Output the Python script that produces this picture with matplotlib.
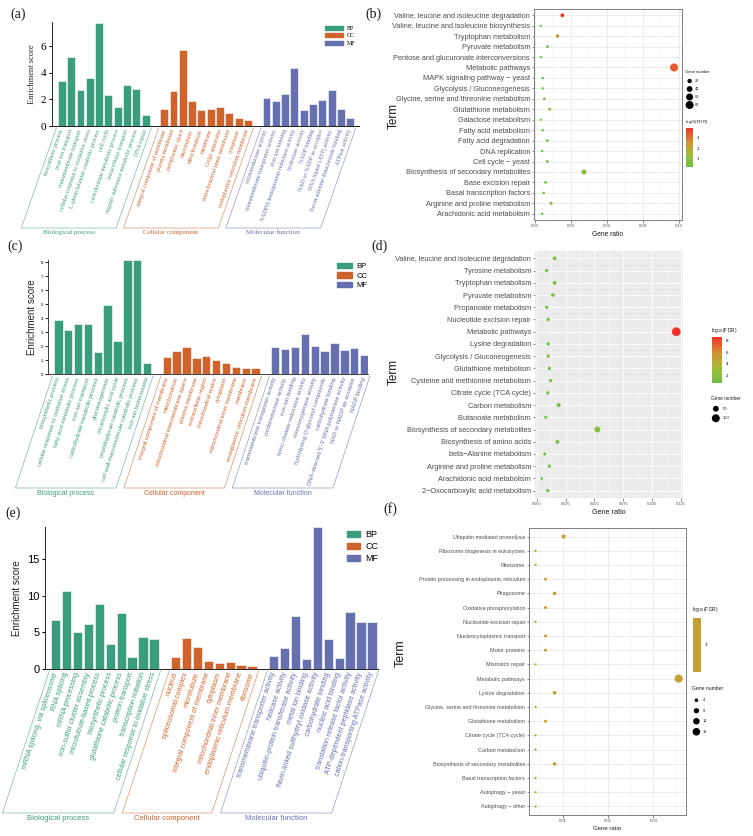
import numpy as np
import matplotlib
matplotlib.use('Agg')
import matplotlib.pyplot as plt
from matplotlib.lines import Line2D
from matplotlib.patches import Patch
from matplotlib.colors import LinearSegmentedColormap, ListedColormap, Normalize
import matplotlib.cm as cm

# ---------------- data ----------------
a_bp_terms = ["biosynthetic process", "iron ion transport", "transmembrane transport",
              "cellular response to oxidative stress", "L-phenylalanine catabolic process",
              "cell cycle", "carbohydrate metabolic process", "intracellular transport",
              "organic substance metabolic process", "DNA repair"]
a_bp_vals = [3.35, 5.18, 2.68, 3.58, 7.75, 2.3, 1.4, 3.08, 2.8, 0.85]
a_cc_terms = ["integral component of membrane", "plasma membrane", "periplasmic space",
              "microtubule", "mitochondrion", "membrane", "Golgi apparatus",
              "mitochondrial inner membrane", "cytoplasm", "endoplasmic reticulum membrane"]
a_cc_vals = [1.3, 2.63, 5.73, 1.85, 1.23, 1.25, 1.45, 1.0, 0.63, 0.45]
a_mf_terms = ["oxidoreductase activity", "transmembrane transporter activity", "iron ion binding",
              "NADPH-hemoprotein reductase activity", "hydrolase activity", "NADP binding",
              "NAD or NADP as acceptor", "DNA ligase (ATP) activity",
              "flavin adenine dinucleotide binding", "ATPase activity"]
a_mf_vals = [2.1, 1.85, 2.4, 4.38, 1.23, 1.63, 1.95, 2.73, 1.28, 0.63]

c_bp_terms = ["biosynthetic process", "cellular response to oxidative stress",
              "fatty acid metabolic process", "iron ion transport", "carbohydrate metabolic process",
              "gluconeogenesis", "tricarboxylic acid cycle", "peptidoglycan catabolic process",
              "cell wall macromolecule catabolic process", "iron ion homeostasis"]
c_bp_vals = [3.87, 3.13, 3.6, 3.6, 1.57, 4.91, 2.37, 8.15, 8.15, 0.78]
c_cc_terms = ["integral component of membrane", "mitochondrion", "mitochondrial intermembrane space",
              "plasma membrane", "extracellular region", "mitochondrial matrix", "cytoplasm",
              "mitochondrial inner membrane", "membrane", "endoplasmic reticulum membrane"]
c_cc_vals = [1.19, 1.61, 1.92, 1.14, 1.28, 1.02, 0.76, 0.5, 0.4, 0.4]
c_mf_terms = ["transmembrane transporter activity", "oxidoreductase activity", "iron ion binding",
              "ferric-chelate reductase activity", "monooxygenase activity",
              "hydrolyzing O-glycosyl compounds", "carbohydrate binding",
              "DNA-directed 5'-3' RNA polymerase activity", "NAD or NADP as acceptor", "NADP binding"]
c_mf_vals = [1.92, 1.76, 1.95, 2.85, 1.99, 1.64, 2.23, 1.71, 1.83, 1.38]

e_bp_terms = ["mRNA splicing, via spliceosome", "RNA splicing", "mRNA processing",
              "iron-sulfur cluster assembly", "microtubule-based process", "biosynthetic process",
              "glutathione catabolic process", "protein transport", "transcription initiation",
              "cellular response to oxidative stress"]
e_bp_vals = [6.66, 10.65, 5.12, 6.12, 8.88, 3.44, 7.66, 1.68, 4.4, 4.12]
e_cc_terms = ["nucleus", "spliceosomal complex", "microtubule", "integral component of membrane",
              "cytoplasm", "mitochondrial inner membrane", "endoplasmic reticulum membrane", "ribosome"]
e_cc_vals = [1.59, 4.17, 2.99, 1.09, 0.86, 0.95, 0.5, 0.36]
e_mf_terms = ["transmembrane transporter activity", "helicase activity",
              "ubiquitin-protein transferase activity", "metal ion binding",
              "flavin-linked sulfhydryl oxidase activity", "carbohydrate binding",
              "nucleic acid binding", "translation release factor activity",
              "ATP-dependent peptidase activity", "cation-transporting ATPase activity"]
e_mf_vals = [1.81, 2.85, 7.25, 1.4, 19.4, 4.12, 1.54, 7.8, 6.48, 6.48]

b_terms = ["Valine, leucine and isoleucine degradation", "Valine, leucine and isoleucine biosynthesis",
           "Tryptophan metabolism", "Pyruvate metabolism", "Pentose and glucuronate interconversions",
           "Metabolic pathways", "MAPK signaling pathway \u2212 yeast", "Glycolysis / Gluconeogenesis",
           "Glycine, serine and threonine metabolism", "Glutathione metabolism", "Galactose metabolism",
           "Fatty acid metabolism", "Fatty acid degradation", "DNA replication", "Cell cycle \u2212 yeast",
           "Biosynthesis of secondary metabolites", "Base excision repair", "Basal transcription factors",
           "Arginine and proline metabolism", "Arachidonic acid metabolism"]
b_ratio = [0.023, 0.005, 0.019, 0.0107, 0.005, 0.116, 0.0066, 0.0066, 0.008, 0.0125, 0.005,
           0.0066, 0.0105, 0.0062, 0.0105, 0.041, 0.009, 0.0075, 0.0135, 0.0062]
b_count = [15, 3, 13, 7, 3, 82, 4, 4, 5, 8, 3, 4, 7, 4, 7, 29, 6, 5, 9, 4]
b_fdr = [3.9, 0.3, 2.3, 0.8, 0.2, 3.3, 0.4, 0.4, 0.5, 0.9, 0.2, 0.4, 0.7, 0.3, 0.7, 0.9, 0.5,
         0.4, 0.8, 0.3]
b_size_legend = [20, 40, 60, 80]

d_terms = ["Valine, leucine and isoleucine degradation", "Tyrosine metabolism", "Tryptophan metabolism",
           "Pyruvate metabolism", "Propanoate metabolism", "Nucleotide excision repair",
           "Metabolic pathways", "Lysine degradation", "Glycolysis / Gluconeogenesis",
           "Glutathione metabolism", "Cysteine and methionine metabolism", "Citrate cycle (TCA cycle)",
           "Carbon metabolism", "Butanoate metabolism", "Biosynthesis of secondary metabolites",
           "Biosynthesis of amino acids", "beta\u2212Alanine metabolism", "Arginine and proline metabolism",
           "Arachidonic acid metabolism", "2\u2212Oxocarboxylic acid metabolism"]
d_ratio = [0.0155, 0.0086, 0.0155, 0.014, 0.0086, 0.010, 0.121, 0.010, 0.010, 0.011, 0.012,
           0.0095, 0.019, 0.0078, 0.0526, 0.018, 0.0069, 0.011, 0.0043, 0.0095]
d_count = [16, 9, 16, 14, 9, 10, 122, 10, 10, 11, 12, 10, 19, 8, 53, 18, 7, 11, 4, 10]
d_fdr = [1.4, 1.0, 1.4, 1.3, 1.0, 1.1, 8.7, 1.1, 1.1, 1.2, 1.2, 1.1, 1.5, 0.9, 1.8, 1.5, 0.9,
         1.2, 0.6, 1.1]
d_size_legend = [50, 100]

f_terms = ["Ubiquitin mediated proteolysis", "Ribosome biogenesis in eukaryotes", "Ribosome",
           "Protein processing in endoplasmic reticulum", "Phagosome", "Oxidative phosphorylation",
           "Nucleotide excision repair", "Nucleocytoplasmic transport", "Motor proteins",
           "Mismatch repair", "Metabolic pathways", "Lysine degradation",
           "Glycine, serine and threonine metabolism", "Glutathione metabolism",
           "Citrate cycle (TCA cycle)", "Carbon metabolism", "Biosynthesis of secondary metabolites",
           "Basal transcription factors", "Autophagy \u2212 yeast", "Autophagy \u2212 other"]
f_ratio = [0.0102, 0.0040, 0.0040, 0.0062, 0.0082, 0.0062, 0.0040, 0.0062, 0.0062, 0.0040,
           0.0356, 0.0082, 0.0040, 0.0062, 0.0040, 0.0040, 0.0082, 0.0040, 0.0040, 0.0040]
f_count = [5, 2, 2, 3, 4, 3, 2, 3, 3, 2, 18, 4, 2, 3, 2, 2, 4, 2, 2, 2]
f_fdr = [3.0] * 20
f_size_legend = [4, 8, 12, 16]

# ---------------- figure ----------------
W, H = 753, 836
fig = plt.figure(figsize=(W / 100, H / 100), dpi=100)


def rect(l, t, r, b):
    return [l / W, 1 - b / H, (r - l) / W, (b - t) / H]


def fx(x):
    return x / W


def fy(y):
    return 1 - y / H


C_BP, C_CC, C_MF = '#3A9D7D', '#D0632B', '#6670AE'
SERIF = ['Liberation Serif', 'DejaVu Serif']
SANS = ['Liberation Sans', 'DejaVu Sans']
NARROW = ['Liberation Sans Narrow', 'Liberation Sans', 'DejaVu Sans']


def bar_panel(box, groups, xlim, ylim, yticks, family, ytick_fs, ylab_fs, ylab_x,
              lab_fs, rot, br_h, grp_fs, grp_gap, leg_xy, leg_fs, leg_hl, leg_sp, axis_lw,
              ytick_len):
    l, t, r, b = box
    ax = fig.add_axes(rect(*box))
    ax_w, ax_h = r - l, b - t
    ppu = ax_w / (xlim[1] - xlim[0])
    start = 0
    all_pos, all_terms, all_cols = [], [], []
    for terms, vals, col, name in groups:
        pos = np.arange(len(vals)) + start
        ax.bar(pos, vals, width=0.85, color=col, edgecolor='white', linewidth=0.4, zorder=2)
        all_pos += list(pos)
        all_terms += terms
        all_cols += [col] * len(terms)
        # bracket (parallelogram)
        x0, x1 = pos[0] - 0.6, pos[-1] + 0.6
        shift = br_h / np.tan(np.radians(rot)) / ppu
        ytop = -2.0 / ax_h
        ybot = -br_h / ax_h
        ln = Line2D([x0, x0 - shift, x1 - shift, x1], [ytop, ybot, ybot, ytop],
                    transform=ax.get_xaxis_transform(), color=col, lw=0.5, alpha=0.7,
                    clip_on=False)
        ax.add_line(ln)
        ax.text((x0 + x1) / 2 - shift, ybot - grp_gap / ax_h, name,
                transform=ax.get_xaxis_transform(), ha='center', va='top',
                color=col, fontsize=grp_fs, family=family)
        start += len(vals) + 1
    ax.set_xlim(*xlim)
    ax.set_ylim(*ylim)
    ax.set_xticks(all_pos)
    ax.set_xticklabels(all_terms, rotation=rot, ha='right', va='center',
                       rotation_mode='anchor', fontsize=lab_fs, family=family)
    for lbl, col in zip(ax.get_xticklabels(), all_cols):
        lbl.set_color(col)
    ax.tick_params(axis='x', length=0, pad=2.5)
    ax.set_yticks(yticks)
    ax.set_yticklabels([str(v) for v in yticks], fontsize=ytick_fs, family=family)
    ax.tick_params(axis='y', length=ytick_len, width=axis_lw, pad=1.5)
    for s in ['top', 'right']:
        ax.spines[s].set_visible(False)
    for s in ['left', 'bottom']:
        ax.spines[s].set_linewidth(axis_lw)
        ax.spines[s].set_color('#222222')
    fig.text(fx(ylab_x), fy((t + b) / 2), 'Enrichment score', rotation=90, ha='center',
             va='center', fontsize=ylab_fs, family=family, color='#222222')
    handles = [Patch(color=g[2], label=n) for g, n in zip(groups, ['BP', 'CC', 'MF'])]
    ax.legend(handles=handles, loc='upper left', bbox_to_anchor=(fx(leg_xy[0]), fy(leg_xy[1])),
              bbox_transform=fig.transFigure, frameon=False, borderpad=0, borderaxespad=0,
              prop={'family': family, 'size': leg_fs}, handlelength=leg_hl, handleheight=0.7,
              labelspacing=leg_sp, handletextpad=0.6)
    return ax


# (a)
bar_panel((52, 22, 359, 126),
          [(a_bp_terms, a_bp_vals, C_BP, 'Biological process'),
           (a_cc_terms, a_cc_vals, C_CC, 'Cellular component'),
           (a_mf_terms, a_mf_vals, C_MF, 'Molecular function')],
          xlim=(-1.07, 31.95), ylim=(0, 7.8), yticks=[0, 2, 4, 6], family=SERIF,
          ytick_fs=8, ylab_fs=6, ylab_x=32, lab_fs=4.3, rot=71, br_h=102, grp_fs=5,
          grp_gap=2, leg_xy=(325, 26), leg_fs=4.3, leg_hl=3.0, leg_sp=0.35, axis_lw=0.7,
          ytick_len=2.5)

# (c)
bar_panel((48, 260, 368, 374),
          [(c_bp_terms, c_bp_vals, C_BP, 'Biological process'),
           (c_cc_terms, c_cc_vals, C_CC, 'Cellular component'),
           (c_mf_terms, c_mf_vals, C_MF, 'Molecular function')],
          xlim=(-1.05, 31.4), ylim=(0, 8.15), yticks=list(range(0, 9)), family=SANS,
          ytick_fs=3.2, ylab_fs=7, ylab_x=32, lab_fs=4.2, rot=72, br_h=114, grp_fs=5,
          grp_gap=2, leg_xy=(337, 263), leg_fs=5.6, leg_hl=1.9, leg_sp=0.25, axis_lw=0.6,
          ytick_len=2)

# (e)
bar_panel((45, 527, 378, 669),
          [(e_bp_terms, e_bp_vals, C_BP, 'Biological process'),
           (e_cc_terms, e_cc_vals, C_CC, 'Cellular component'),
           (e_mf_terms, e_mf_vals, C_MF, 'Molecular function')],
          xlim=(-0.99, 29.56), ylim=(0, 19.4), yticks=[0, 5, 10, 15], family=SANS,
          ytick_fs=8, ylab_fs=7, ylab_x=17, lab_fs=5.1, rot=72, br_h=144, grp_fs=5.5,
          grp_gap=2, leg_xy=(347, 530), leg_fs=6.5, leg_hl=1.45, leg_sp=0.35, axis_lw=0.7,
          ytick_len=2.5)

# ---------------- bubble panels ----------------
GRN_RED = LinearSegmentedColormap.from_list(
    'gr', ['#6DBE45', '#A3BC3A', '#D68E31', '#F0302A'])


def bubble(box, terms, ratio, counts, fdr, cmap, norm, dfun, xlim, xticks, xticklabels,
           xminor, style, lab_fs, xt_fs, xlab_fs, xlab_pad, family):
    ax = fig.add_axes(rect(*box))
    n = len(terms)
    y = np.arange(n)[::-1]
    s = (dfun(np.array(counts, dtype=float)) * 0.72) ** 2
    ax.scatter(ratio, y, s=s, c=fdr, cmap=cmap, norm=norm, edgecolors='none', zorder=3)
    ax.set_ylim(-0.6, n - 0.4)
    ax.set_xlim(*xlim)
    ax.set_yticks(y)
    ax.set_yticklabels(terms, fontsize=lab_fs, color='#4D4D4D', family=family)
    ax.set_xticks(xticks)
    ax.set_xticklabels(xticklabels, fontsize=xt_fs, color='#4D4D4D', family=family)
    ax.set_xticks(xminor, minor=True)
    ax.tick_params(axis='both', which='major', length=1.8, width=0.4, color='#333333', pad=1)
    ax.tick_params(axis='x', which='minor', length=0)
    ax.set_axisbelow(True)
    if style == 'bw':
        ax.set_facecolor('white')
        ax.grid(True, which='major', color='#E5E5E5', lw=0.5)
        ax.grid(True, which='minor', axis='x', color='#F0F0F0', lw=0.3)
        for sp in ax.spines.values():
            sp.set_color('#7F7F7F')
            sp.set_linewidth(0.7)
    else:
        ax.set_facecolor('#EBEBEB')
        ax.grid(True, which='major', color='white', lw=0.6)
        ax.grid(True, which='minor', axis='x', color='white', lw=0.3)
        for sp in ax.spines.values():
            sp.set_visible(False)
    ax.set_xlabel('Gene ratio', fontsize=xlab_fs, family=family, labelpad=xlab_pad,
                  color='#1A1A1A')
    return ax


def colorbar(box, cmap, norm, ticks, title, title_xy, fs, tfs):
    cax = fig.add_axes(rect(*box))
    cb = fig.colorbar(cm.ScalarMappable(norm=norm, cmap=cmap), cax=cax)
    cb.set_ticks(ticks)
    cb.ax.tick_params(labelsize=fs, length=1.2, width=0.4, color='white', pad=1.5)
    cb.outline.set_visible(False)
    fig.text(fx(title_xy[0]), fy(title_xy[1]), title, fontsize=tfs, ha='left', va='center',
             family=SANS, color='#1A1A1A')


def size_legend(box, values, dfun, title, title_xy, fs, tfs):
    lax = fig.add_axes(rect(*box))
    lax.axis('off')
    n = len(values)
    lax.set_xlim(0, 1)
    lax.set_ylim(n - 0.5, -0.5)
    v = np.array(values, dtype=float)
    lax.scatter(np.full(n, 0.2), np.arange(n), s=(dfun(v) * 0.72) ** 2, color='black',
                edgecolors='none', clip_on=False)
    for i, val in enumerate(values):
        lax.text(0.5, i, str(val), fontsize=fs, va='center', ha='left', family=SANS,
                 color='#1A1A1A')
    fig.text(fx(title_xy[0]), fy(title_xy[1]), title, fontsize=tfs, ha='left', va='center',
             family=SANS, color='#1A1A1A')


K = 1.35  # overall bubble diameter scale

# (b)
d_b = lambda c: K * np.sqrt(1.65 + 0.42 * c)
norm_b = Normalize(vmin=min(b_fdr), vmax=max(b_fdr))
ax_b = bubble((534, 9, 682, 220), b_terms, b_ratio, b_count, b_fdr, GRN_RED, norm_b, d_b,
              xlim=(-0.0006, 0.1226), xticks=[0, 0.03, 0.06, 0.09, 0.12],
              xticklabels=['0.00', '0.03', '0.06', '0.09', '0.12'],
              xminor=[0.015, 0.045, 0.075, 0.105], style='bw', lab_fs=5.3, xt_fs=3.0,
              xlab_fs=4.8, xlab_pad=2, family=SANS)
size_legend((686, 77, 704, 109), b_size_legend, d_b, 'Gene number', (685, 72), 2.8, 3.0)
colorbar((686, 128, 693, 167), GRN_RED, norm_b, [1, 2, 3], r'log$_{10}$(FDR)', (685, 122),
         2.8, 3.2)
fig.text(fx(394), fy(116), 'Term', rotation=90, ha='center', va='center', fontsize=8.5,
         family=SANS, color='#1A1A1A')

# (d)
d_d = lambda c: K * np.sqrt(2.7 + 0.322 * c)
norm_d = Normalize(vmin=min(d_fdr), vmax=max(d_fdr))
ax_d = bubble((535, 251, 683, 498), d_terms, d_ratio, d_count, d_fdr, GRN_RED, norm_d, d_d,
              xlim=(-0.0015, 0.1268), xticks=[0, 0.025, 0.05, 0.075, 0.1, 0.125],
              xticklabels=['0.000', '0.025', '0.050', '0.075', '0.100', '0.125'],
              xminor=[0.0125, 0.0375, 0.0625, 0.0875, 0.1125], style='grey', lab_fs=5.35,
              xt_fs=2.8, xlab_fs=5.2, xlab_pad=2.5, family=SANS)
colorbar((712, 337, 722, 383), GRN_RED, norm_d, [2, 4, 6, 8], r'log$_{10}$(FDR)', (711, 331),
         3.0, 3.6)
size_legend((711, 404, 735, 423), d_size_legend, d_d, 'Gene number', (711, 398), 3.0, 3.4)
fig.text(fx(394), fy(372), 'Term', rotation=90, ha='center', va='center', fontsize=8.5,
         family=SANS, color='#1A1A1A')

# (f)
GOLD = ListedColormap(['#C3A033'])
d_f = lambda c: K * np.sqrt(np.maximum(-1.2 + 2.07 * c, 1.0))
norm_f = Normalize(vmin=2.5, vmax=3.5)
ax_f = bubble((529, 528, 686, 815), f_terms, f_ratio, f_count, f_fdr, GOLD, norm_f, d_f,
              xlim=(0.00256, 0.0372), xticks=[0.01, 0.02, 0.03],
              xticklabels=['0.01', '0.02', '0.03'], xminor=[0.005, 0.015, 0.025, 0.035],
              style='bw', lab_fs=3.9, xt_fs=3.0, xlab_fs=4.3, xlab_pad=2, family=NARROW)
colorbar((693, 618, 701, 672), GOLD, norm_f, [3], r'log$_{10}$(FDR)', (692, 610), 3.0, 3.6)
size_legend((692, 695, 714, 737), f_size_legend, d_f, 'Gene number', (692, 688), 3.0, 3.6)
fig.text(fx(401), fy(653), 'Term', rotation=90, ha='center', va='center', fontsize=9,
         family=SANS, color='#1A1A1A')

# panel labels
for lab, x, y in [('(a)', 10, 14), ('(b)', 365, 14), ('(c)', 7, 246), ('(d)', 371, 246),
                  ('(e)', 5, 513), ('(f)', 383, 509)]:
    fig.text(fx(x), fy(y), lab, fontsize=10, family=SERIF, ha='left', va='center',
             color='#1A1A1A')

fig.savefig('out.png', dpi=100)
